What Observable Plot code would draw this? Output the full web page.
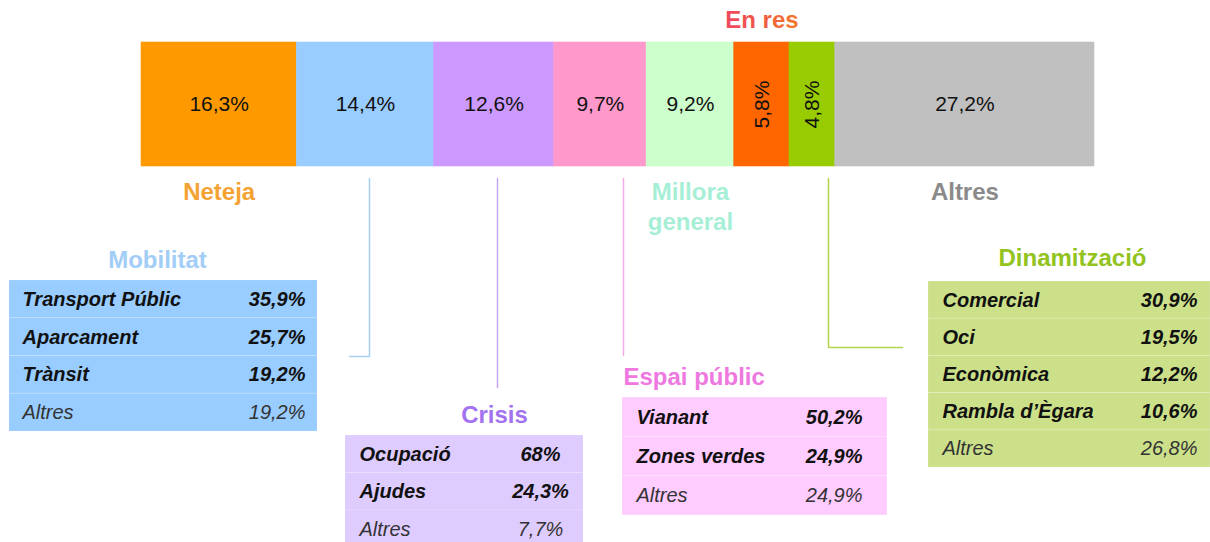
<!DOCTYPE html>
<html>
<head>
<meta charset="utf-8">
<script src="https://cdn.jsdelivr.net/npm/d3@7"></script>
<script src="https://cdn.jsdelivr.net/npm/@observablehq/plot@0.6"></script>
<style>
  html, body { margin: 0; padding: 0; background: #fff; }
  #chart svg { display: block; }
</style>
</head>
<body>
<div id="chart"></div>
<script>
// ---------- DATA ----------
const categories = ["Neteja", "Mobilitat", "Crisis", "Espai públic", "Millora general", "En res", "Dinamització", "Altres"];
const shares = [16.3, 14.4, 12.6, 9.7, 9.2, 5.8, 4.8, 27.2];

const mobilitatItems = ["Transport Públic", "Aparcament", "Trànsit", "Altres"];
const mobilitatValues = [35.9, 25.7, 19.2, 19.2];

const crisisItems = ["Ocupació", "Ajudes", "Altres"];
const crisisValues = [68, 24.3, 7.7];

const espaiItems = ["Vianant", "Zones verdes", "Altres"];
const espaiValues = [50.2, 24.9, 24.9];

const dinamitzacioItems = ["Comercial", "Oci", "Econòmica", "Rambla d’Ègara", "Altres"];
const dinamitzacioValues = [30.9, 19.5, 12.2, 10.6, 26.8];

// ---------- STYLE / LAYOUT ----------
const W = 1210, H = 542;
const barLeft = 141, barRight = 1094, barTop = 42, barBottom = 166;
const barColors = ["#FF9900", "#99CCFF", "#CC99FF", "#FF99CC", "#CCFFCC", "#FF6600", "#99CC00", "#C0C0C0"];
const FONT = "'Liberation Sans', Arial, Helvetica, sans-serif";

const belowLabels = {"Neteja": ["Neteja", "#F4A232"], "Millora general": ["Millora\ngeneral", "#A6EFD6"], "Altres": ["Altres", "#8A8A8A"]};
const aboveLabels = {"En res": "En res"};

const tableLayout = {
  "Mobilitat":    {x1: 9,   x2: 317,  top: 280, rowH: 37.75, labelX: 22,  valueX: 305,  valueAnchor: "end",    titleX: 157,  titleY: 260, titleAnchor: "middle", fill: "#99CCFF", titleColor: "#A2CDF6"},
  "Crisis":       {x1: 345, x2: 583,  top: 435, rowH: 37.5,  labelX: 359, valueX: 540,  valueAnchor: "middle", titleX: 494,  titleY: 415, titleAnchor: "middle", fill: "#DFCCFF", titleColor: "#A272F0"},
  "Espai públic": {x1: 622, x2: 887,  top: 397, rowH: 39.3,  labelX: 636, valueX: 862,  valueAnchor: "end",    titleX: 623,  titleY: 377, titleAnchor: "start",  fill: "#FFCCFF", titleColor: "#EE78DF"},
  "Dinamització": {x1: 928, x2: 1210, top: 281, rowH: 37.2,  labelX: 942, valueX: 1197, valueAnchor: "end",    titleX: 1072, titleY: 258, titleAnchor: "middle", fill: "#CCE08A", titleColor: "#92C320"}
};
const connectors = [
  {id: "Mobilitat",    color: "#A9CFF5", pts: [[369, 178], [369, 356], [349, 356]]},
  {id: "Crisis",       color: "#C6A6F4", pts: [[497, 178], [497, 387]]},
  {id: "Espai públic", color: "#F2AAE8", pts: [[623, 178], [623, 355]]},
  {id: "Dinamització", color: "#B4D44C", pts: [[828, 178], [828, 347], [902, 347]]}
];

// ---------- BUILD ----------
const pct = v => String(v).replace(".", ",") + "%";
const X = p => (p - barLeft) / (barRight - barLeft) * 100;   // pixel layout -> percent domain

const barRows = categories.map((c, i) => ({category: c, share: shares[i]}));

const tables = [
  {key: "Mobilitat", items: mobilitatItems, values: mobilitatValues},
  {key: "Crisis", items: crisisItems, values: crisisValues},
  {key: "Espai públic", items: espaiItems, values: espaiValues},
  {key: "Dinamització", items: dinamitzacioItems, values: dinamitzacioValues}
];

const tableMarks = tables.flatMap(t => {
  const L = tableLayout[t.key];
  const rows = t.items.map((name, i) => ({name, value: t.values[i], i, other: name === "Altres"}));
  const yMid = d => L.top + (d.i + 0.5) * L.rowH;
  return [
    Plot.rect(rows, {x1: () => X(L.x1), x2: () => X(L.x2), y1: d => L.top + d.i * L.rowH, y2: d => L.top + (d.i + 1) * L.rowH,
      fill: L.fill, stroke: "#fff", strokeOpacity: 0.15, strokeWidth: 1}),
    Plot.text(rows.filter(d => !d.other), {x: () => X(L.labelX), y: yMid, text: "name", textAnchor: "start",
      fontSize: 20, fontWeight: "bold", fontStyle: "italic", fill: "#111"}),
    Plot.text(rows.filter(d => d.other), {x: () => X(L.labelX), y: yMid, text: "name", textAnchor: "start",
      fontSize: 20, fontStyle: "italic", fill: "#333"}),
    Plot.text(rows.filter(d => !d.other), {x: () => X(L.valueX), y: yMid, text: d => pct(d.value), textAnchor: L.valueAnchor,
      fontSize: 20, fontWeight: "bold", fontStyle: "italic", fill: "#111"}),
    Plot.text(rows.filter(d => d.other), {x: () => X(L.valueX), y: yMid, text: d => pct(d.value), textAnchor: L.valueAnchor,
      fontSize: 20, fontStyle: "italic", fill: "#333"}),
    Plot.text([t.key], {x: () => X(L.titleX), y: () => L.titleY, text: d => d, textAnchor: L.titleAnchor,
      fontSize: 24, fontWeight: "bold", fill: L.titleColor})
  ];
});

const connectorPts = connectors.flatMap(c => c.pts.map(p => ({id: c.id, color: c.color, x: X(p[0]), y: p[1]})));

const chart = Plot.plot({
  width: W,
  height: H,
  margin: 0,
  style: {fontFamily: FONT, background: "#fff"},
  x: {domain: [X(0), X(W)], range: [0, W], axis: null},
  y: {domain: [0, H], range: [0, H], axis: null},
  color: {domain: categories, range: barColors},
  marks: [
    // main stacked bar
    Plot.rect(barRows, Plot.stackX({x: "share", y1: barTop, y2: barBottom, fill: "category", stroke: "category", strokeWidth: 0.6, order: null})),
    Plot.text(barRows, Plot.stackX({x: "share", y: (barTop + barBottom) / 2, order: null, text: d => pct(d.share),
      rotate: d => d.share < 6 ? -90 : 0, fontSize: 21, fill: "#111"})),
    // category labels below / above the bar
    Plot.text(barRows, Plot.stackX({x: "share", y: barBottom + 12, order: null, text: d => belowLabels[d.category] ? belowLabels[d.category][0] : "",
      fill: d => belowLabels[d.category] ? belowLabels[d.category][1] : "#fff",
      lineAnchor: "top", lineHeight: 1.25, fontSize: 24, fontWeight: "bold"})),
    Plot.text(barRows, Plot.stackX({x: "share", y: 20, order: null, text: d => aboveLabels[d.category] || "",
      fill: "url(#enresGrad)", fontSize: 24, fontWeight: "bold"})),
    // connectors
    Plot.line(connectorPts, {x: "x", y: "y", z: "id", stroke: d => d.color, strokeWidth: 1.5, curve: "linear"}),
    // tables
    ...tableMarks
  ]
});

// gradient for "En res"
const svg = d3.select(chart);
const grad = svg.insert("defs", ":first-child").append("linearGradient").attr("id", "enresGrad");
grad.append("stop").attr("offset", "0%").attr("stop-color", "#EE4860");
grad.append("stop").attr("offset", "45%").attr("stop-color", "#F05848");
grad.append("stop").attr("offset", "100%").attr("stop-color", "#F07A28");

document.getElementById("chart").appendChild(chart);
</script>
</body>
</html>
